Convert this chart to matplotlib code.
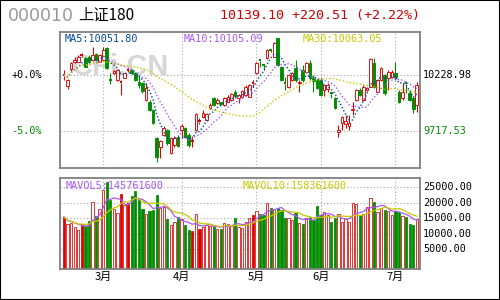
import numpy as np
import pandas as pd
import matplotlib
matplotlib.use("Agg")
import matplotlib.pyplot as plt
from matplotlib.patches import Rectangle
from matplotlib.transforms import blended_transform_factory

# daily K-line data (index points)
opens = [10224, 10131, 10284, 10350, 10350, 10403, 10381, 10396, 10366, 10421,
         10350, 10366, 10473, 10188, 10245, 10183, 10160, 10204, 10270, 10275,
         10245, 10168, 10153, 10001, 9985, 9909, 9651, 9574, 9681, 9727,
         9514, 9590, 9665, 9731, 9742, 9681, 9622, 9727, 9800, 9848,
         9818, 9925, 10016, 9971, 9978, 9955, 9985, 10001, 10077, 10016,
         10031, 10046, 10031, 10151, 10245, 10371, 10325, 10381, 10462, 10396,
         10564, 10305, 10156, 10122, 10183, 10293, 10153, 10275, 10259, 10336,
         10202, 10183, 10183, 10092, 10101, 10065, 10016, 9706, 9788, 9781,
         9763, 9909, 10001, 10092, 10001, 10092, 10122, 10336, 10077, 10183,
         10229, 10202, 10213, 10245, 10077, 10016, 10156, 10062, 10016, 9955]
closes = [10234, 10183, 10336, 10366, 10396, 10412, 10305, 10350, 10412, 10366,
          10412, 10457, 10290, 10179, 10266, 10275, 10170, 10245, 10279, 10245,
          10183, 10138, 10083, 10108, 9909, 9788, 9483, 9626, 9748, 9605,
          9651, 9651, 9583, 9763, 9665, 9590, 9631, 9870, 9809, 9879,
          9870, 9955, 9955, 10001, 9964, 10016, 10031, 10053, 10040, 10046,
          10083, 10122, 10138, 10160, 10336, 10361, 10316, 10457, 10453, 10518,
          10320, 10183, 10147, 10229, 10245, 10183, 10168, 10183, 10336, 10199,
          10174, 10113, 10046, 10138, 10138, 10056, 9925, 9727, 9843, 9812,
          9788, 9921, 10092, 10046, 10122, 10108, 10372, 10122, 10183, 10290,
          10062, 10259, 10259, 10213, 9985, 10077, 10147, 10001, 9918.59, 10139.10]
highs = [10275, 10192, 10348, 10393, 10412, 10430, 10393, 10412, 10485, 10430,
         10421, 10485, 10485, 10247, 10275, 10284, 10183, 10256, 10293, 10284,
         10256, 10229, 10165, 10156, 10001, 9918, 9663, 9635, 9763, 9736,
         9663, 9672, 9681, 9781, 9754, 9699, 9672, 9882, 9836, 9909,
         9882, 9973, 10028, 10019, 9982, 10028, 10046, 10065, 10092, 10056,
         10092, 10138, 10147, 10183, 10348, 10375, 10329, 10466, 10466, 10530,
         10567, 10311, 10213, 10238, 10256, 10366, 10183, 10320, 10348, 10366,
         10229, 10192, 10202, 10147, 10156, 10077, 10028, 9772, 9855, 9864,
         9864, 9982, 10101, 10110, 10138, 10119, 10384, 10384, 10192, 10302,
         10238, 10275, 10275, 10348, 10092, 10156, 10174, 10092, 10028, 10165]
lows = [10183, 10101, 10256, 10339, 10348, 10393, 10302, 10339, 10357, 10357,
        10348, 10357, 10284, 10147, 10238, 10174, 10046, 10202, 10256, 10238,
        10174, 10110, 10065, 9992, 9900, 9781, 9437, 9471, 9672, 9590,
        9507, 9571, 9571, 9654, 9654, 9571, 9571, 9718, 9781, 9836,
        9809, 9918, 9946, 9964, 9955, 9946, 9982, 9992, 10028, 9973,
        10028, 10037, 10028, 10119, 10238, 10302, 10275, 10375, 10439, 10393,
        10311, 10174, 10092, 10110, 10174, 10165, 10074, 10165, 10247, 10183,
        10074, 10101, 10037, 10037, 10074, 10019, 9918, 9660, 9727, 9745,
        9727, 9864, 9992, 10037, 9992, 10083, 10119, 10110, 10074, 10174,
        10046, 10092, 10202, 10183, 9973, 10001, 10065, 9992, 9885, 9894]
# volume in 10k shares
volumes = [15420, 13160, 13480, 12100, 11320, 13160, 12420, 14030, 20260, 15650,
           18000, 24230, 26710, 21000, 18000, 16710, 22840, 19390, 19940, 22100,
           23900, 21320, 18100, 16390, 17260, 17580, 22610, 18320, 18550, 14870,
           12940, 13810, 15320, 14770, 12940, 11320, 11000, 16390, 11650, 12100,
           12740, 12420, 12420, 11650, 11650, 13480, 13160, 12420, 15100, 12100,
           11870, 13810, 15100, 15970, 17450, 16390, 15970, 19940, 18320, 18100,
           18320, 17770, 15100, 15100, 14550, 16710, 13480, 13160, 15100, 15320,
           14550, 18870, 15970, 17030, 15970, 13810, 15100, 16390, 13810, 14870,
           13810, 19940, 19610, 15970, 16390, 18550, 21550, 20260, 17030, 18320,
           17770, 17260, 15970, 17260, 17030, 15650, 15320, 13160, 12740, 14870]

month_idx = [11, 33, 54, 72, 93]
month_labels = ['3月', '4月', '5月', '6月', '7月']
base_price = 10228.98
pct_levels = [0.0, -5.0]
pct_labels = ['+0.0%', '-5.0%']
vol_ticks = [5000, 10000, 15000, 20000, 25000]

title_code = '000010'
title_name = '上证180'
title_quote = '10139.10 +220.51 (+2.22%)'
ma_text = ['MA5:10051.80', 'MA10:10105.09', 'MA30:10063.05']
mavol_text = ['MAVOL5:145761600', 'MAVOL10:158361600']

RED = '#dd0000'
GREEN = '#008c00'
MA_COLORS = ['#004a9a', '#a957f5', '#c8c800']
GRID = '#a8a8a8'
MONO = 'DejaVu Sans Mono'
CJK = ['Noto Sans CJK SC', 'DejaVu Sans']

df = pd.DataFrame({'open': opens, 'high': highs, 'low': lows,
                   'close': closes, 'vol': volumes})
x = np.arange(len(df))

fig = plt.figure(figsize=(5, 3), dpi=100)
fig.patch.set_facecolor('white')
ax1 = fig.add_axes([0.12, 0.44, 0.72, 0.4543])
ax2 = fig.add_axes([0.12, 0.1033, 0.72, 0.3033])

for ax in (ax1, ax2):
    ax.set_xlim(-1.12, 99.9)
    ax.set_xticks([])
    ax.set_yticks([])
    for s in ax.spines.values():
        s.set_color('#808080')
        s.set_linewidth(1.3)
    for m in month_idx:
        ax.axvline(m, color=GRID, lw=0.8, ls=(0, (1, 2)), zorder=0)

ax1.set_ylim(9380, 10624)
vol_bottom = -1400
ax2.set_ylim(vol_bottom, 28000)

# watermark
ax1.text(72 / 500, 1 - 75 / 300, 'CFi.CN', transform=fig.transFigure,
         family='Liberation Sans', fontweight='bold', fontsize=21,
         color='#d6d6d6', va='baseline', ha='left', zorder=0)

for p in pct_levels:
    ax1.axhline(base_price * (1 + p / 100), color=GRID, lw=0.8,
                ls=(0, (1, 2)), zorder=0)
for v in vol_ticks:
    ax2.axhline(v, color=GRID, lw=0.8, ls=(0, (1, 2)), zorder=0)

# candles + volume bars
w = 0.74
vw = 0.64
for i, r in df.iterrows():
    up = r.close >= r.open
    col = RED if up else GREEN
    top = max(r.open, r.close)
    bot = min(r.open, r.close)
    ax1.vlines(i, top, r.high, color=col, lw=0.8, zorder=2)
    ax1.vlines(i, r.low, bot, color=col, lw=0.8, zorder=2)
    if top - bot < 12:
        ax1.hlines((top + bot) / 2, i - w / 2, i + w / 2, color=col,
                   lw=1.4, zorder=2)
        vface = col
    else:
        face = 'white' if up else col
        ax1.add_patch(Rectangle((i - w / 2, bot), w, top - bot,
                                facecolor=face, edgecolor=col, lw=0.65,
                                zorder=2))
        vface = face
    ax2.add_patch(Rectangle((i - vw / 2, vol_bottom), vw, r.vol - vol_bottom,
                            facecolor=vface, edgecolor=col, lw=0.55,
                            zorder=2))

# moving averages
for n, c in zip([5, 10, 30], MA_COLORS):
    ma = df['close'].rolling(n, min_periods=1).mean()
    ax1.plot(x, ma, color=c, lw=1.0, ls=(0, (1, 1.5)), zorder=3)
for n, c in zip([5, 10], [MA_COLORS[1], MA_COLORS[2]]):
    mv = df['vol'].rolling(n, min_periods=1).mean()
    ax2.plot(x, mv, color=c, lw=0.9, zorder=3)

# axis labels
lt1 = blended_transform_factory(ax1.transAxes, ax1.transData)
for p, lab in zip(pct_levels, pct_labels):
    col = 'black' if p >= 0 else GREEN
    y = base_price * (1 + p / 100)
    ax1.text(-0.05, y, lab, transform=lt1, ha='right', va='center',
             family=MONO, fontsize=7.3, color=col)
    ax1.text(1.008, y, f'{y:.2f}', transform=lt1, ha='left', va='center',
             family=MONO, fontsize=7.3, color=col)
lt2 = blended_transform_factory(ax2.transAxes, ax2.transData)
for v in vol_ticks:
    ax2.text(1.008, v, f'{v:.2f}', transform=lt2, ha='left', va='center',
             family=MONO, fontsize=7.3, color='black')
mt = blended_transform_factory(ax2.transData, ax2.transAxes)
for m, lab in zip(month_idx, month_labels):
    ax2.text(m, -0.09, lab, transform=mt, ha='center', va='center',
             family=CJK, fontsize=8, color='black')

# legends inside panels
for xp, t, c in zip([65, 184, 303], ma_text, MA_COLORS):
    fig.text(xp / 500, 1 - 39 / 300, t, family=MONO, fontsize=7.3,
             color=c, va='center', ha='left')
for xp, t, c in zip([66, 243], mavol_text, [MA_COLORS[1], MA_COLORS[2]]):
    fig.text(xp / 500, 1 - 186 / 300, t, family=MONO, fontsize=7.3,
             color=c, va='center', ha='left')

# header
fig.text(8 / 500, 1 - 16 / 300, title_code, family='DejaVu Sans',
         fontsize=12.5, color='#999999', va='center', ha='left')
fig.text(78 / 500, 1 - 15 / 300, title_name, family=CJK, fontsize=11,
         color='black', va='center', ha='left')
fig.text(220 / 500, 1 - 15 / 300, title_quote, family=MONO, fontsize=9.6,
         color='#cc0000', va='center', ha='left')

fig.add_artist(Rectangle((0, 0), 1, 1, transform=fig.transFigure,
                         fill=False, edgecolor='black', lw=1.5))

fig.savefig('out.png', dpi=100)
